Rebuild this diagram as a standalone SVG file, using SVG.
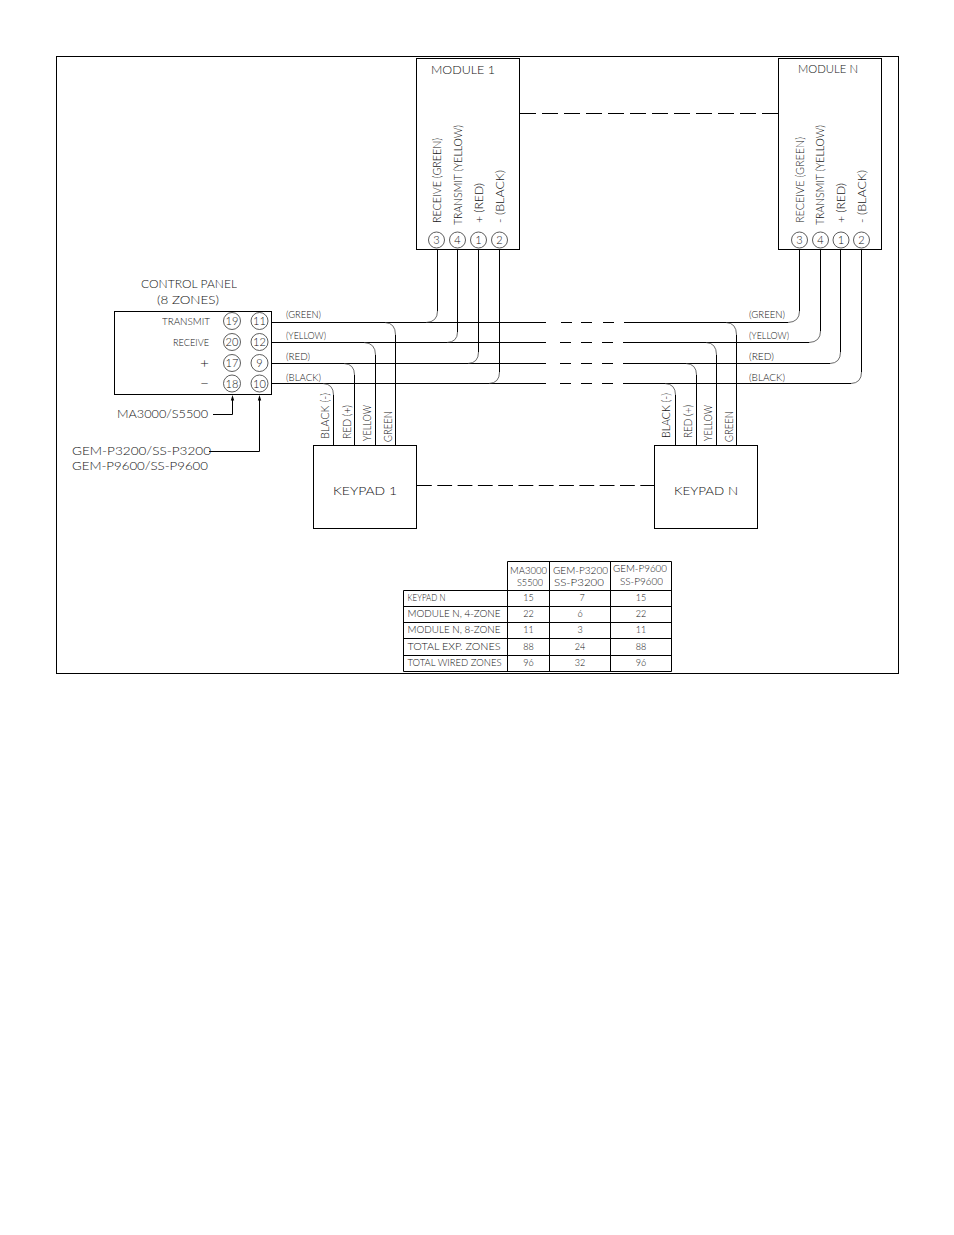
<svg xmlns="http://www.w3.org/2000/svg" width="954" height="1235" viewBox="0 0 954 1235">
<style>
rect,circle,.w{fill:none;stroke:#000;stroke-width:1}
circle{stroke:#333;stroke-width:.8}
.c{fill:none;stroke:#444;stroke-width:.8}
text{font-family:"Lato","Liberation Sans",Arial,sans-serif;font-weight:300;fill:#111;font-size:11px;opacity:.99}
.s{font-size:9.5px}
.t{font-size:9px}
.l{font-size:12px}
.n{font-size:11px;text-anchor:middle}
.m{text-anchor:middle}
.h{fill:#000}
</style>
<rect width="954" height="1235" style="fill:#fff;stroke:none"/>
<g id="frame"><rect x="56.500" y="56.500" width="842" height="617"/></g>

<g id="connectors">
<path class="w" d="M271 322.500H546M561 322.500H572M581 322.500H592M603 322.500H614M624 322.500H788M271 342.500H546M560 342.500H571M581 342.500H592M602 342.500H613M623 342.500H809M271 363.500H546M560 363.500H571M581 363.500H592M602 363.500H613M623 363.500H830M271 383.500H546M560 383.500H571M581 383.500H592M602 383.500H613M623 383.500H851"/>
<path class="w" d="M437.500 250V311M457.500 250V332M478.500 250V352M499.500 250V372M799.500 250V311M820.500 250V331M840.500 250V352M861.500 250V372"/>
<path class="c" d="M437.500 311Q437.500 322 426 322.500M457.500 332Q457.500 342 447 342.500M478.500 352Q478.500 363 468 363.500M499.500 372Q499.500 383 489 383.500M799.500 311Q799.500 322 788 322.500M820.500 331Q820.500 342 809 342.500M840.500 352Q840.500 363 830 363.500M861.500 372Q861.500 383 851 383.500"/>
<path class="w" d="M333.500 395V445M354.500 375V445M375.500 355V445M395.500 335V445M675.500 395V445M696.500 375V445M716.500 355V445M736.500 335V445"/>
<path class="c" d="M323 383.500Q333.500 384 333.500 395M344 363.500Q354.500 364 354.500 375M364 342.500Q375.500 343 375.500 355M385 322.500Q395.500 323 395.500 335M665 383.500Q675.500 384 675.500 395M686 363.500Q696.500 364 696.500 375M706 342.500Q716.500 343 716.500 355M726 322.500Q736.500 323 736.500 335"/>
<path class="w" d="M520 113.500H778" stroke-dasharray="16 6"/>
<path class="w" d="M417 485.500H654" stroke-dasharray="14.800 5.500"/>
<path class="w" d="M213 414.500H232.500V398"/>
<path class="w" d="M209 451.500H259.500V398"/>
<path class="h" d="M232.500 395L234.200 400.500H230.800ZM259.500 395L261.200 400.500H257.800Z"/>
</g>

<g id="module-1">
<rect x="416.500" y="58.500" width="103" height="191"/>
<text class="l" x="431" y="73.500" textLength="64" lengthAdjust="spacingAndGlyphs">MODULE 1</text>
<text transform="translate(441 223) rotate(-90)" textLength="85" lengthAdjust="spacingAndGlyphs">RECEIVE (GREEN)</text>
<text transform="translate(462 225) rotate(-90)" textLength="100" lengthAdjust="spacingAndGlyphs">TRANSMIT (YELLOW)</text>
<text transform="translate(483 223) rotate(-90)" textLength="40" lengthAdjust="spacingAndGlyphs">+ (RED)</text>
<text transform="translate(504 223) rotate(-90)" textLength="53" lengthAdjust="spacingAndGlyphs">- (BLACK)</text>
<circle cx="436.500" cy="240" r="8"/><text class="n" x="436.500" y="244">3</text>
<circle cx="457.500" cy="240" r="8"/><text class="n" x="457.500" y="244">4</text>
<circle cx="478.500" cy="240" r="8"/><text class="n" x="478.500" y="244">1</text>
<circle cx="499.500" cy="240" r="8"/><text class="n" x="499.500" y="244">2</text>
</g>

<g id="module-n">
<rect x="778.500" y="58.500" width="103" height="191"/>
<text class="l" x="798" y="73" textLength="60" lengthAdjust="spacingAndGlyphs">MODULE N</text>
<text transform="translate(803.500 223) rotate(-90)" textLength="86" lengthAdjust="spacingAndGlyphs">RECEIVE (GREEN)</text>
<text transform="translate(824 225) rotate(-90)" textLength="100" lengthAdjust="spacingAndGlyphs">TRANSMIT (YELLOW)</text>
<text transform="translate(845 223) rotate(-90)" textLength="40" lengthAdjust="spacingAndGlyphs">+ (RED)</text>
<text transform="translate(866 223) rotate(-90)" textLength="53" lengthAdjust="spacingAndGlyphs">- (BLACK)</text>
<circle cx="799.500" cy="240" r="8"/><text class="n" x="799.500" y="244">3</text>
<circle cx="820.500" cy="240" r="8"/><text class="n" x="820.500" y="244">4</text>
<circle cx="841" cy="240" r="8"/><text class="n" x="841" y="244">1</text>
<circle cx="861.500" cy="240" r="8"/><text class="n" x="861.500" y="244">2</text>
</g>

<g id="control-panel">
<text class="l" x="141" y="288" textLength="96" lengthAdjust="spacingAndGlyphs">CONTROL PANEL</text>
<text class="l" x="157" y="304" textLength="62" lengthAdjust="spacingAndGlyphs">(8 ZONES)</text>
<rect x="114.500" y="311.500" width="157" height="83"/>
<text class="s" x="162" y="325" textLength="48" lengthAdjust="spacingAndGlyphs">TRANSMIT</text>
<text class="s" x="173" y="346" textLength="36" lengthAdjust="spacingAndGlyphs">RECEIVE</text>
<text x="200" y="367.500" style="font-size:14px" textLength="9" lengthAdjust="spacingAndGlyphs">+</text>
<text x="200" y="388" style="font-size:14px" textLength="9" lengthAdjust="spacingAndGlyphs">−</text>
<circle cx="232" cy="321" r="8.500"/><text class="n" x="232" y="325">19</text>
<circle cx="259.500" cy="321" r="8.500"/><text class="n" x="259.500" y="325">11</text>
<circle cx="232" cy="342" r="8.500"/><text class="n" x="232" y="346">20</text>
<circle cx="259.500" cy="342" r="8.500"/><text class="n" x="259.500" y="346">12</text>
<circle cx="232" cy="363" r="8.500"/><text class="n" x="232" y="367">17</text>
<circle cx="259.500" cy="363" r="8.500"/><text class="n" x="259.500" y="367">9</text>
<circle cx="232" cy="383.500" r="8.500"/><text class="n" x="232" y="387.500">18</text>
<circle cx="259.500" cy="383.500" r="8.500"/><text class="n" x="259.500" y="387.500">10</text>
</g>

<g id="panel-labels">
<text class="l" x="117" y="418" textLength="91" lengthAdjust="spacingAndGlyphs">MA3000/S5500</text>
<text class="l" x="72" y="455" textLength="139" lengthAdjust="spacingAndGlyphs">GEM-P3200/SS-P3200</text>
<text class="l" x="72" y="470" textLength="136" lengthAdjust="spacingAndGlyphs">GEM-P9600/SS-P9600</text>
</g>

<g id="bus-labels">
<text class="s" x="286" y="317.500" textLength="35" lengthAdjust="spacingAndGlyphs">(GREEN)</text>
<text class="s" x="286" y="339" textLength="40" lengthAdjust="spacingAndGlyphs">(YELLOW)</text>
<text class="s" x="286" y="360" textLength="24" lengthAdjust="spacingAndGlyphs">(RED)</text>
<text class="s" x="286" y="381" textLength="35" lengthAdjust="spacingAndGlyphs">(BLACK)</text>
<text class="s" x="749" y="317.500" textLength="36" lengthAdjust="spacingAndGlyphs">(GREEN)</text>
<text class="s" x="749" y="339" textLength="40" lengthAdjust="spacingAndGlyphs">(YELLOW)</text>
<text class="s" x="749" y="360" textLength="25" lengthAdjust="spacingAndGlyphs">(RED)</text>
<text class="s" x="749" y="381" textLength="36" lengthAdjust="spacingAndGlyphs">(BLACK)</text>
</g>

<g id="keypad-1">
<rect x="313.500" y="445.500" width="103" height="83"/>
<text class="l" x="333" y="495" textLength="64" lengthAdjust="spacingAndGlyphs">KEYPAD 1</text>
<text transform="translate(329 439) rotate(-90)" textLength="46" lengthAdjust="spacingAndGlyphs">BLACK (-)</text>
<text transform="translate(350.500 439) rotate(-90)" textLength="34" lengthAdjust="spacingAndGlyphs">RED (+)</text>
<text transform="translate(371 441) rotate(-90)" textLength="36" lengthAdjust="spacingAndGlyphs">YELLOW</text>
<text transform="translate(392 442) rotate(-90)" textLength="31" lengthAdjust="spacingAndGlyphs">GREEN</text>
</g>

<g id="keypad-n">
<rect x="654.500" y="445.500" width="103" height="83"/>
<text class="l" x="674" y="495" textLength="64" lengthAdjust="spacingAndGlyphs">KEYPAD N</text>
<text transform="translate(670 438) rotate(-90)" textLength="45" lengthAdjust="spacingAndGlyphs">BLACK (-)</text>
<text transform="translate(691.500 438) rotate(-90)" textLength="33" lengthAdjust="spacingAndGlyphs">RED (+)</text>
<text transform="translate(712 441) rotate(-90)" textLength="36" lengthAdjust="spacingAndGlyphs">YELLOW</text>
<text transform="translate(733 442) rotate(-90)" textLength="31" lengthAdjust="spacingAndGlyphs">GREEN</text>
</g>

<g id="table">
<path class="w" d="M507.500 561.500H671.500V671.500H403.500V590.500H671.500M403.500 606.500H671.500M403.500 622.500H671.500M403.500 638.500H671.500M403.500 655.500H671.500M507.500 561.500V671.500M549.500 561.500V671.500M610.500 561.500V671.500"/>
<text class="t" x="510" y="573.500" textLength="37" lengthAdjust="spacingAndGlyphs">MA3000</text>
<text class="t" x="517" y="585.500" textLength="26" lengthAdjust="spacingAndGlyphs">S5500</text>
<text class="t" x="553" y="574" textLength="55" lengthAdjust="spacingAndGlyphs">GEM-P3200</text>
<text class="t" x="554" y="586" textLength="50" lengthAdjust="spacingAndGlyphs">SS-P3200</text>
<text class="t" x="613" y="572" textLength="54" lengthAdjust="spacingAndGlyphs">GEM-P9600</text>
<text class="t" x="620" y="585" textLength="43" lengthAdjust="spacingAndGlyphs">SS-P9600</text>
<text class="t" x="407.500" y="601" textLength="38" lengthAdjust="spacingAndGlyphs">KEYPAD N</text>
<text class="t" x="407.500" y="617" textLength="93" lengthAdjust="spacingAndGlyphs">MODULE N, 4-ZONE</text>
<text class="t" x="407.500" y="633" textLength="93" lengthAdjust="spacingAndGlyphs">MODULE N, 8-ZONE</text>
<text class="t" x="407.500" y="649.500" textLength="93" lengthAdjust="spacingAndGlyphs">TOTAL EXP. ZONES</text>
<text class="t" x="407.500" y="666" textLength="94" lengthAdjust="spacingAndGlyphs">TOTAL WIRED ZONES</text>
<text class="t m" x="528.500" y="601">15</text><text class="t m" x="582" y="601">7</text><text class="t m" x="641" y="601">15</text>
<text class="t m" x="528.500" y="617">22</text><text class="t m" x="580" y="617">6</text><text class="t m" x="641" y="617">22</text>
<text class="t m" x="528.500" y="633">11</text><text class="t m" x="580" y="633">3</text><text class="t m" x="641" y="633">11</text>
<text class="t m" x="528.500" y="649.500">88</text><text class="t m" x="580" y="649.500">24</text><text class="t m" x="641" y="649.500">88</text>
<text class="t m" x="528.500" y="666">96</text><text class="t m" x="580" y="666">32</text><text class="t m" x="641" y="666">96</text>
</g>
</svg>
